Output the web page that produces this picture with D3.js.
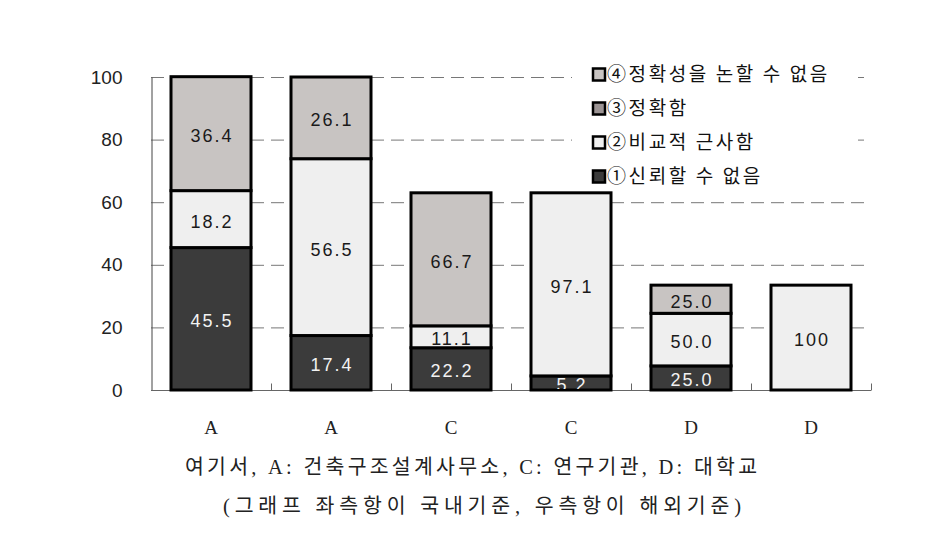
<!DOCTYPE html>
<html><head><meta charset="utf-8">
<script src="https://cdn.jsdelivr.net/npm/d3@7"></script>
<style>html,body{margin:0;padding:0;background:#fff;}</style>
</head><body>
<script>
// ---- data ----
const categories = ["A","A","C","C","D","D"];
const seriesNames = ["①신뢰할 수 없음","②비교적 근사함","③정확함","④정확성을 논할 수 없음"];
// segment heights (axis units)
const s1 = [45.5, 17.4, 13.5, 4.5, 7.7, 0];
const s2 = [18.2, 56.5, 7.0, 58.5, 16.8, 33.5];
const s3 = [0, 0, 0, 0, 0, 0];
const s4 = [36.4, 26.1, 42.5, 0, 9.0, 0];
// labels printed in segments
const l1 = ["45.5","17.4","22.2","5.2","25.0",null];
const l2 = ["18.2","56.5","11.1","97.1","50.0","100"];
const l3 = [null,null,null,null,null,null];
const l4 = ["36.4","26.1","66.7",null,"25.0",null];
const yTicks = [0,20,40,60,80,100];
const captionLines = ["여기서, A: 건축구조설계사무소, C: 연구기관, D: 대학교","(그래프 좌측항이 국내기준, 우측항이 해외기준)"];

const colors = ["#3b3b3b","#efefef","#9c9494","#c8c4c2"];
const labelColors = ["#f2f2f2","#1a1a1a","#1a1a1a","#1a1a1a"];

const W=935,H=534;
const svg=d3.select("body").append("svg").attr("width",W).attr("height",H);

const x=d3.scaleBand().domain(d3.range(categories.length)).range([151,871]).paddingInner(1/3).paddingOuter(1/6);
const y=d3.scaleLinear().domain([0,100]).range([390,77]);

// grid
svg.append("g").selectAll("line").data(yTicks.filter(d=>d>0)).join("line")
  .attr("x1",151).attr("x2",871).attr("y1",d=>y(d)+0.5).attr("y2",d=>y(d)+0.5)
  .attr("stroke","#777").attr("stroke-width",1).attr("stroke-dasharray","13,7");

// legend background (white box that hides grid)
svg.append("rect").attr("x",572).attr("y",58).attr("width",286).attr("height",132).attr("fill","#fff");

// y axis
const yAxis=d3.axisLeft(y).tickValues(yTicks).tickSize(0).tickPadding(0);
const gy=svg.append("g").attr("transform","translate(151.5,0)").call(yAxis);
gy.select(".domain").attr("stroke","#444");
gy.selectAll("text").attr("x",-29).attr("font-family","Liberation Sans, Arial, sans-serif").attr("font-size",19).attr("fill","#222");

// x axis
const gx=svg.append("g").attr("transform","translate(0,390.5)");
gx.append("line").attr("x1",151).attr("x2",871).attr("stroke","#666");
const bounds=d3.range(1,categories.length+1).map(i=>x(i-1)+x.bandwidth()+x.step()*x.paddingInner()/2);
gx.selectAll("line.tk").data(bounds).join("line").attr("class","tk")
  .attr("x1",d=>Math.round(d)+0.5).attr("x2",d=>Math.round(d)+0.5).attr("y1",0).attr("y2",-7).attr("stroke","#666");
gx.selectAll("text").data(categories).join("text")
  .attr("x",(d,i)=>x(i)+x.bandwidth()/2).attr("y",43)
  .attr("text-anchor","middle").attr("font-family","Liberation Serif, Times New Roman, serif").attr("font-size",19).attr("fill","#222")
  .text(d=>d);

// stacked bars
const rows=categories.map((c,i)=>({i,v0:s1[i],v1:s2[i],v2:s3[i],v3:s4[i]}));
const labels=[l1,l2,l3,l4];
const stack=d3.stack().keys(["v0","v1","v2","v3"])(rows);
const bars=svg.append("g");
stack.forEach((layer,k)=>{
  bars.selectAll("rect.s"+k).data(layer.filter(d=>d[1]-d[0]>0)).join("rect").attr("class","s"+k)
    .attr("x",d=>x(d.data.i)).attr("width",x.bandwidth())
    .attr("y",d=>y(d[1])).attr("height",d=>y(d[0])-y(d[1]))
    .attr("fill",colors[k]).attr("stroke","#000").attr("stroke-width",3);
});
svg.append("clipPath").attr("id","plotclip").append("rect").attr("x",140).attr("y",60).attr("width",740).attr("height",329);
const lab=svg.append("g").attr("clip-path","url(#plotclip)");
stack.forEach((layer,k)=>{
  layer.forEach(d=>{
    const t=labels[k][d.data.i];
    if(!t || d[1]-d[0]<=0) return;
    lab.append("text").attr("x",x(d.data.i)+x.bandwidth()/2+1).attr("y",(y(d[0])+y(d[1]))/2+2)
      .attr("dy","0.36em").attr("text-anchor","middle")
      .attr("font-family","Liberation Sans, Arial, sans-serif").attr("font-size",18).attr("letter-spacing","2px")
      .attr("fill",labelColors[k]).text(t);
  });
});

// legend
const legOrder=[3,2,1,0];
const lg=svg.append("g");
legOrder.forEach((k,j)=>{
  const cy=74.5+j*34;
  lg.append("rect").attr("x",593).attr("y",cy-6).attr("width",12).attr("height",12)
    .attr("fill",colors[k]).attr("stroke","#000").attr("stroke-width",2.5);
  lg.append("text").attr("x",607).attr("y",cy).attr("dy","0.36em")
    .attr("font-family","Noto Sans CJK KR, sans-serif").attr("font-size",19).attr("letter-spacing","2.6px")
    .attr("fill","#111").text(seriesNames[k]);
});

// captions
const capX=[[185,757],[223,741]], capY=[474,513];
captionLines.forEach((t,i)=>{
  svg.append("text").attr("x",capX[i][0]).attr("y",capY[i])
    .attr("textLength",capX[i][1]-capX[i][0]).attr("lengthAdjust","spacing")
    .attr("font-family","Liberation Serif, Noto Sans CJK KR, serif").attr("font-size",20.5).attr("fill","#222").text(t);
});
</script>
</body></html>
